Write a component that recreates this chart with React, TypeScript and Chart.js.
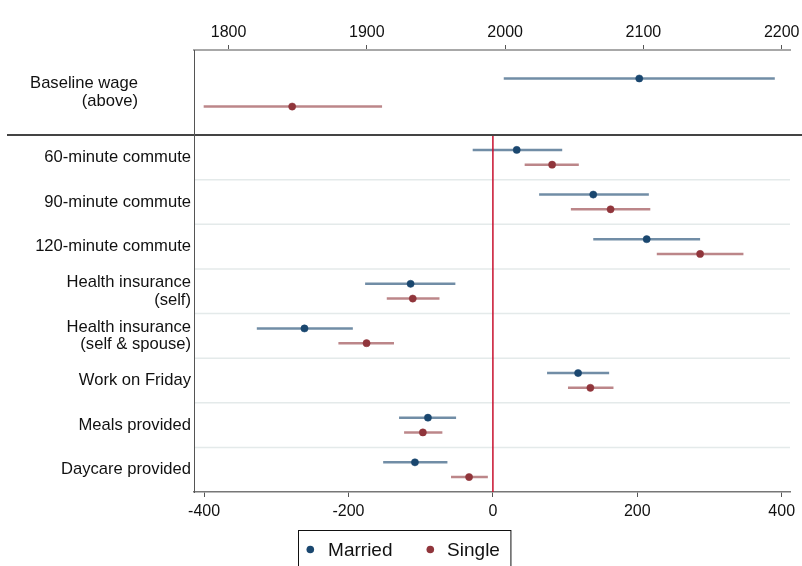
import React, { useEffect, useRef } from "react";
import { Chart, registerables } from "chart.js";

Chart.register(...registerables);

// ---------- data ----------
const seriesNames = ["Married", "Single"];

const topLabel = ["Baseline wage", "(above)"];
const topTicks = [1800, 1900, 2000, 2100, 2200];
const baselineMarriedEst = [2097];
const baselineMarriedLow = [1999];
const baselineMarriedHigh = [2195];
const baselineSingleEst = [1846];
const baselineSingleLow = [1782];
const baselineSingleHigh = [1911];

const rowLabels = [
  ["60-minute commute"],
  ["90-minute commute"],
  ["120-minute commute"],
  ["Health insurance", "(self)"],
  ["Health insurance", "(self & spouse)"],
  ["Work on Friday"],
  ["Meals provided"],
  ["Daycare provided"],
];
const marriedEst = [33, 139, 213, -114, -261, 118, -90, -108];
const marriedLow = [-28, 64, 139, -177, -327, 75, -130, -152];
const marriedHigh = [96, 216, 287, -52, -194, 161, -51, -63];
const singleEst = [82, 163, 287, -111, -175, 135, -97, -33];
const singleLow = [44, 108, 227, -147, -214, 104, -123, -58];
const singleHigh = [119, 218, 347, -74, -137, 167, -70, -7];
const bottomTicks = [-400, -200, 0, 200, 400];

// ---------- styles ----------
const FONT = "'Liberation Sans', Arial, Helvetica, sans-serif";
const NAVY = "#1a476f";
const MAROON = "#90353b";
const NAVY_CI = "rgba(26,71,111,0.62)";
const MAROON_CI = "rgba(144,53,59,0.6)";
const TEXT = "#111111";
const OFFSET = 0.165;

const ciPlugin = {
  id: "ci",
  beforeDatasetsDraw(chart: any, _args: any, opts: any) {
    const { ctx, chartArea, scales } = chart;
    const xs = scales.x;
    const ys = scales.y;
    ctx.save();
    if (opts && opts.rowLines) {
      ctx.strokeStyle = "#e4eaea";
      ctx.lineWidth = 1.5;
      for (let i = 0; i < opts.rowLines; i++) {
        const y = ys.getPixelForValue(i + 0.5);
        ctx.beginPath();
        ctx.moveTo(chartArea.left + 1, y);
        ctx.lineTo(chartArea.right, y);
        ctx.stroke();
      }
    }
    chart.data.datasets.forEach((ds: any, di: number) => {
      const meta = chart.getDatasetMeta(di);
      ds.low.forEach((lo: number, i: number) => {
        const y = meta.data[i].y;
        ctx.strokeStyle = ds.ciColor;
        ctx.lineWidth = 2.6;
        ctx.beginPath();
        ctx.moveTo(xs.getPixelForValue(lo), y);
        ctx.lineTo(xs.getPixelForValue(ds.high[i]), y);
        ctx.stroke();
      });
    });
    ctx.restore();
  },
  afterDatasetsDraw(chart: any, _args: any, opts: any) {
    if (!opts || !opts.bottom) return;
    const { ctx, chartArea, scales } = chart;
    ctx.save();
    // zero reference line
    const x0 = scales.x.getPixelForValue(0);
    ctx.strokeStyle = "#c8102e";
    ctx.lineWidth = 1.5;
    ctx.beginPath();
    ctx.moveTo(x0, chartArea.top);
    ctx.lineTo(x0, chartArea.bottom);
    ctx.stroke();
    // separator between panels
    ctx.strokeStyle = "#444444";
    ctx.lineWidth = 2;
    ctx.beginPath();
    ctx.moveTo(7, chartArea.top);
    ctx.lineTo(chart.width, chartArea.top);
    ctx.stroke();
    // legend
    ctx.font = `19px ${FONT}`;
    const w1 = ctx.measureText(seriesNames[0]).width;
    const w2 = ctx.measureText(seriesNames[1]).width;
    const r = 3.8;
    const W = 8 + 2 * r + 14 + w1 + 34 + 2 * r + 13 + w2 + 11;
    const left = Math.round(chart.width / 2 + 3 - W / 2) + 0.5;
    const top = chartArea.bottom + 38.5;
    ctx.strokeStyle = "#111";
    ctx.lineWidth = 1;
    ctx.strokeRect(left, top, W, 40);
    const cy = top + 19;
    const colors = [NAVY, MAROON];
    let x = left + 8;
    [w1, w2].forEach((w, i) => {
      ctx.fillStyle = colors[i];
      ctx.beginPath();
      ctx.arc(x + r, cy, r, 0, Math.PI * 2);
      ctx.fill();
      x += 2 * r + (i === 0 ? 14 : 13);
      ctx.fillStyle = TEXT;
      ctx.textBaseline = "middle";
      ctx.textAlign = "left";
      ctx.fillText(seriesNames[i], x, cy + 1);
      x += w + 34;
    });
    ctx.restore();
  },
};

export default function App() {
  const topRef = useRef<HTMLCanvasElement>(null);
  const botRef = useRef<HTMLCanvasElement>(null);

  useEffect(() => {
    Chart.defaults.font.family = FONT;
    Chart.defaults.color = TEXT;

    const top = new Chart(topRef.current as HTMLCanvasElement, {
      type: "scatter",
      data: {
        datasets: [
          {
            label: seriesNames[0],
            data: baselineMarriedEst.map((v) => ({ x: v, y: -OFFSET })),
            low: baselineMarriedLow,
            high: baselineMarriedHigh,
            ciColor: NAVY_CI,
            pointRadius: 3.6,
            pointBackgroundColor: NAVY,
            pointBorderColor: NAVY,
            pointBorderWidth: 0.5,
          } as any,
          {
            label: seriesNames[1],
            data: baselineSingleEst.map((v) => ({ x: v, y: OFFSET })),
            low: baselineSingleLow,
            high: baselineSingleHigh,
            ciColor: MAROON_CI,
            pointRadius: 3.6,
            pointBackgroundColor: MAROON,
            pointBorderColor: MAROON,
            pointBorderWidth: 0.5,
          } as any,
        ],
      },
      options: {
        responsive: false,
        animation: false,
        events: [],
        layout: { padding: { left: 0, right: 12, top: 0, bottom: 431 } },
        plugins: { legend: { display: false }, tooltip: { enabled: false }, ci: {} } as any,
        scales: {
          x: {
            type: "linear",
            position: "top",
            min: 1775,
            max: 2206,
            afterBuildTicks: (s: any) => {
              s.ticks = topTicks.map((v) => ({ value: v }));
            },
            afterFit: (s: any) => {
              s.height = 50;
              s.paddingLeft = 0;
              s.paddingRight = 0;
            },
            ticks: {
              callback: (v: any) => String(v),
              font: { size: 16 },
              color: TEXT,
              padding: 3,
              maxRotation: 0,
              autoSkip: false,
            },
            grid: {
              display: true,
              drawOnChartArea: false,
              drawTicks: true,
              tickLength: 5,
              color: "#555",
              lineWidth: 1,
            },
            border: { display: true, color: "#a8a8a8", width: 2 },
          },
          y: {
            type: "linear",
            min: -0.5,
            max: 0.5,
            reverse: true,
            afterBuildTicks: (s: any) => {
              s.ticks = [{ value: 0 }];
            },
            afterFit: (s: any) => {
              s.width = 194;
              s.paddingTop = 0;
              s.paddingBottom = 0;
            },
            ticks: {
              callback: () => topLabel,
              font: { size: 16.6, lineHeight: 1.06 },
              color: TEXT,
              padding: 56,
              autoSkip: false,
            },
            grid: { display: false, drawTicks: false },
            border: { display: true, color: "#555", width: 1 },
          },
        },
      } as any,
      plugins: [ciPlugin],
    });

    const bot = new Chart(botRef.current as HTMLCanvasElement, {
      type: "scatter",
      data: {
        datasets: [
          {
            label: seriesNames[0],
            data: marriedEst.map((v, i) => ({ x: v, y: i - OFFSET })),
            low: marriedLow,
            high: marriedHigh,
            ciColor: NAVY_CI,
            pointRadius: 3.6,
            pointBackgroundColor: NAVY,
            pointBorderColor: NAVY,
            pointBorderWidth: 0.5,
          } as any,
          {
            label: seriesNames[1],
            data: singleEst.map((v, i) => ({ x: v, y: i + OFFSET })),
            low: singleLow,
            high: singleHigh,
            ciColor: MAROON_CI,
            pointRadius: 3.6,
            pointBackgroundColor: MAROON,
            pointBorderColor: MAROON,
            pointBorderWidth: 0.5,
          } as any,
        ],
      },
      options: {
        responsive: false,
        animation: false,
        events: [],
        layout: { padding: { left: 0, right: 12, top: 135, bottom: 44 } },
        plugins: {
          legend: { display: false },
          tooltip: { enabled: false },
          ci: { rowLines: rowLabels.length - 1, bottom: true },
        } as any,
        scales: {
          x: {
            type: "linear",
            position: "bottom",
            min: -414,
            max: 411.5,
            afterBuildTicks: (s: any) => {
              s.ticks = bottomTicks.map((v) => ({ value: v }));
            },
            afterFit: (s: any) => {
              s.height = 30;
              s.paddingLeft = 0;
              s.paddingRight = 0;
            },
            ticks: {
              callback: (v: any) => String(v),
              font: { size: 16 },
              color: TEXT,
              padding: 5,
              maxRotation: 0,
              autoSkip: false,
            },
            grid: {
              display: true,
              drawOnChartArea: false,
              drawTicks: true,
              tickLength: 5,
              color: "#555",
              lineWidth: 1,
            },
            border: { display: true, color: "#777", width: 1.5 },
          },
          y: {
            type: "linear",
            min: -0.5,
            max: rowLabels.length - 0.5,
            reverse: true,
            afterBuildTicks: (s: any) => {
              s.ticks = rowLabels.map((_, i) => ({ value: i }));
            },
            afterFit: (s: any) => {
              s.width = 194;
              s.paddingTop = 0;
              s.paddingBottom = 0;
            },
            ticks: {
              callback: (_v: any, i: number) => rowLabels[i],
              font: { size: 16.6, lineHeight: 1.06 },
              color: TEXT,
              padding: 3,
              autoSkip: false,
            },
            grid: { display: false, drawTicks: false },
            border: { display: true, color: "#555", width: 1 },
          },
        },
      } as any,
      plugins: [ciPlugin],
    });

    return () => {
      top.destroy();
      bot.destroy();
    };
  }, []);

  return (
    <div
      style={{
        position: "absolute",
        left: 0,
        top: 0,
        width: 802,
        height: 566,
        background: "#fff",
        overflow: "hidden",
      }}
    >
      <canvas
        ref={botRef}
        width={802}
        height={566}
        style={{ position: "absolute", left: 0, top: 0 }}
      />
      <canvas
        ref={topRef}
        width={802}
        height={566}
        style={{ position: "absolute", left: 0, top: 0 }}
      />
    </div>
  );
}
